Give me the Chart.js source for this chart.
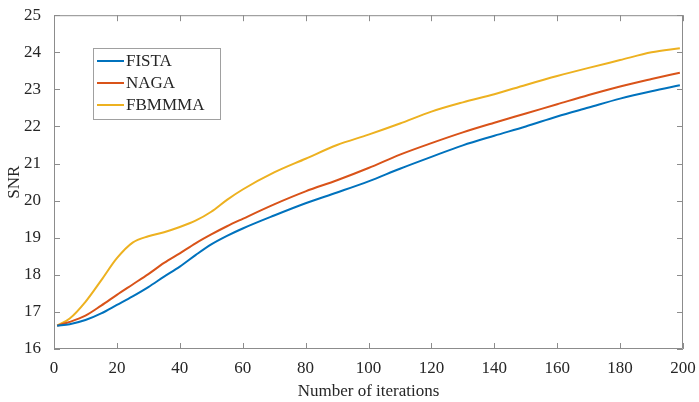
<!DOCTYPE html>
<html>
<head>
<meta charset="utf-8">
<script src="https://cdn.jsdelivr.net/npm/chart.js@4.4.1/dist/chart.umd.min.js"></script>
<style>
  html, body { margin: 0; padding: 0; background: #fff; }
  #wrap { width: 699px; height: 402px; }
</style>
</head>
<body>
<div id="wrap"><canvas id="snrChart" width="699" height="402"></canvas></div>
<script>
const iterations = [1, 5, 10, 15, 20, 25, 30, 35, 40, 45, 50, 55, 60, 70, 80, 90, 100, 110, 120, 130, 140, 150, 160, 170, 180, 190, 199];

const fista  = [16.63, 16.67, 16.78, 16.96, 17.19, 17.42, 17.67, 17.95, 18.22, 18.53, 18.82, 19.05, 19.25, 19.60, 19.93, 20.22, 20.52, 20.86, 21.18, 21.49, 21.75, 22.00, 22.27, 22.51, 22.75, 22.95, 23.11];
const naga   = [16.63, 16.73, 16.90, 17.17, 17.46, 17.74, 18.02, 18.32, 18.58, 18.85, 19.09, 19.31, 19.51, 19.90, 20.25, 20.55, 20.88, 21.24, 21.55, 21.84, 22.10, 22.35, 22.60, 22.85, 23.08, 23.28, 23.45];
const fbmmma = [16.63, 16.82, 17.27, 17.85, 18.45, 18.87, 19.04, 19.15, 19.29, 19.46, 19.70, 20.02, 20.30, 20.76, 21.13, 21.50, 21.78, 22.08, 22.40, 22.65, 22.87, 23.12, 23.36, 23.58, 23.79, 24.00, 24.11];

const seriesNames = ["FISTA", "NAGA", "FBMMMA"];
const xTicks = [0, 20, 40, 60, 80, 100, 120, 140, 160, 180, 200];
const yTicks = [16, 17, 18, 19, 20, 21, 22, 23, 24, 25];

const colors = ["#0072BD", "#D95319", "#EDB120"];
const axisColor = "#8c8c8c";
const textColor = "#262626";
const fontFamily = "'Liberation Serif', 'Times New Roman', serif";

function toPoints(values) {
    return values.map((v, i) => ({ x: iterations[i], y: v }));
}

// inward ticks + top/right border like MATLAB
const boxPlugin = {
    id: "boxTicks",
    afterDatasetsDraw(chart) {
        const { ctx, chartArea: a, scales } = chart;
        ctx.save();
        ctx.strokeStyle = axisColor;
        ctx.lineWidth = 1;
        ctx.beginPath();
        ctx.rect(a.left + 0.5, a.top + 0.5, a.right - a.left - 1, a.bottom - a.top - 1);
        xTicks.forEach(t => {
            const px = Math.round(scales.x.getPixelForValue(t)) + 0.5;
            ctx.moveTo(px, a.bottom); ctx.lineTo(px, a.bottom - 6);
            ctx.moveTo(px, a.top); ctx.lineTo(px, a.top + 6);
        });
        yTicks.forEach(t => {
            const py = Math.round(scales.y.getPixelForValue(t)) + 0.5;
            ctx.moveTo(a.left, py); ctx.lineTo(a.left + 6, py);
            ctx.moveTo(a.right, py); ctx.lineTo(a.right - 6, py);
        });
        ctx.stroke();
        ctx.restore();
    }
};

// legend box inside the axes, upper left
const legendPlugin = {
    id: "innerLegend",
    afterDraw(chart) {
        const ctx = chart.ctx;
        const x0 = 93, y0 = 48, w = 127, h = 71, rowH = 22;
        ctx.save();
        ctx.fillStyle = "#fff";
        ctx.fillRect(x0, y0, w, h);
        ctx.strokeStyle = "#a0a0a0";
        ctx.lineWidth = 1;
        ctx.strokeRect(x0 + 0.5, y0 + 0.5, w, h);
        ctx.font = "17px " + fontFamily;
        ctx.textBaseline = "middle";
        chart.data.datasets.forEach((ds, i) => {
            const y = y0 + 13 + i * rowH;
            ctx.strokeStyle = ds.borderColor;
            ctx.lineWidth = 2;
            ctx.beginPath();
            ctx.moveTo(x0 + 4, y); ctx.lineTo(x0 + 31, y);
            ctx.stroke();
            ctx.fillStyle = textColor;
            ctx.fillText(ds.label, x0 + 33, y + 1);
        });
        ctx.restore();
    }
};

const ctx = document.getElementById("snrChart").getContext("2d");
const snrChart = new Chart(ctx, {
    type: "line",
    data: {
        datasets: [fista, naga, fbmmma].map((vals, i) => ({
            label: seriesNames[i],
            data: toPoints(vals),
            borderColor: colors[i],
            backgroundColor: colors[i],
            borderWidth: 2,
            pointRadius: 0,
            cubicInterpolationMode: "monotone",
            fill: false
        }))
    },
    options: {
        responsive: false,
        animation: false,
        layout: { padding: { top: 14, right: 16, left: 4, bottom: 0 } },
        plugins: {
            legend: { display: false },
            tooltip: { enabled: false }
        },
        scales: {
            x: {
                type: "linear",
                min: 0, max: 200,
                afterBuildTicks: s => { s.ticks = xTicks.map(v => ({ value: v })); },
                grid: { display: false },
                border: { display: false },
                ticks: { color: textColor, font: { family: fontFamily, size: 17 }, padding: 1, maxRotation: 0 },
                title: { display: true, text: "Number of iterations", color: textColor, font: { family: fontFamily, size: 17 }, padding: { top: 2, bottom: 0 } },
                afterFit: s => { s.height = 53; }
            },
            y: {
                type: "linear",
                min: 16, max: 25,
                afterBuildTicks: s => { s.ticks = yTicks.map(v => ({ value: v })); },
                grid: { display: false },
                border: { display: false },
                ticks: { color: textColor, font: { family: fontFamily, size: 17 }, padding: 5 },
                title: { display: true, text: "SNR", color: textColor, font: { family: fontFamily, size: 17 }, padding: { top: 0, bottom: 4 } },
                afterFit: s => { s.width = 50; }
            }
        }
    },
    plugins: [boxPlugin, legendPlugin]
});
</script>
</body>
</html>
